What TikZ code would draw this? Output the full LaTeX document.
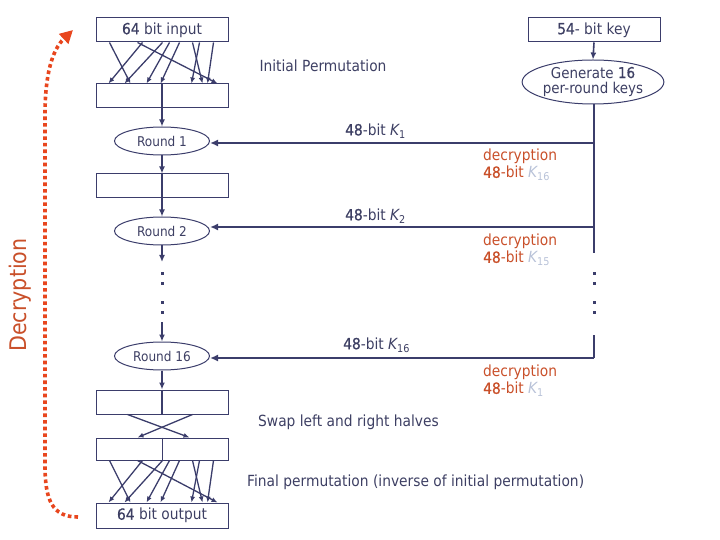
\documentclass[tikz,border=0pt]{standalone}
\usepackage{fontspec}
\setmainfont{DejaVu Sans}[FakeStretch=0.9]
\newfontfamily\semib{DejaVu Sans}[FakeStretch=0.9, FakeBold=0.8]
\usetikzlibrary{shapes.geometric,arrows.meta}
\definecolor{ln}{HTML}{3B3D6B}
\definecolor{tx}{HTML}{3D3F63}
\definecolor{dec}{HTML}{C9502A}
\definecolor{arr}{HTML}{E8461E}
\definecolor{kk}{HTML}{B8C2D8}
\newcommand{\Kk}[1]{{\itshape K}\textsubscript{#1}}
\newcommand{\dg}[1]{{\semib #1}}
\begin{document}
\begin{tikzpicture}[x=1bp,y=-1bp,
  every node/.style={text=tx, font=\fontsize{15.4}{17}\selectfont},
  box/.style={draw=ln, line width=1bp, minimum width=132bp, minimum height=24bp, inner sep=0pt},
  rnd/.style={ellipse, draw=ln, line width=1bp, minimum width=95bp, minimum height=28bp, inner sep=0pt, font=\fontsize{13.5}{15}\selectfont},
  conn/.style={draw=ln, line width=1.6bp, -{Latex[length=7bp,width=6bp]}},
  perm/.style={draw=ln, line width=1.3bp, -{Latex[length=6bp,width=5bp]}},
  pl/.style={draw=ln, line width=1.6bp},
  kline/.style={draw=ln, line width=2.2bp, -{Latex[length=8bp,width=7bp]}},
  dot/.style={fill=ln},
  lbl/.style={anchor=west, inner sep=0pt},
  declbl/.style={anchor=north west, inner sep=0pt, align=left, text=dec}
]
\useasboundingbox (0,0) rectangle (720,540);

% left column
\node[box] (in) at (162,30) {\dg{64} bit input};
\node[box] (ip) at (162,96) {};
\node[rnd] (r1) at (162,141) {Round 1};
\node[box] (b2) at (162,186) {};
\node[rnd] (r2) at (162,231) {Round 2};
\node[rnd] (r16) at (162,356) {Round 16};
\node[box] (b3) at (162,402) {};
\node[box, minimum height=22bp] (b4) at (162,449) {};
\node[box, minimum height=25bp] (out) at (162,515.5) {\dg{64} bit output};

% key column
\node[box, minimum width=132bp] (key) at (594,30) {\dg{54}- bit key};
\node[ellipse, draw=ln, line width=1bp, minimum width=138bp, minimum height=44bp, inner sep=0pt, align=center,
      font=\fontsize{15}{16}\selectfont] (gen) at (593,82) {Generate \dg{16}\\per-round keys};

% permutations
\foreach \s/\e in {14/35, 42/122, 47/13, 67/29, 74/51, 84/65, 97/107, 104/96, 118/112} {
  \draw[perm] ([xshift=\s bp]in.south west) -- ([xshift=\e bp]ip.north west);
  \draw[perm] ([xshift=\s bp]b4.south west) -- ([xshift=\e bp]out.north west);
}

% main data path
\draw[conn] (ip.north) -- (r1.north);
\draw[conn] (r1.south) -- (b2.north);
\draw[pl] (b2.north) -- (b2.south);
\draw[conn] (b2.south) -- (r2.north);
\coordinate (d1) at (162,262);
\coordinate (d2) at (162,322);
\draw[conn] (r2.south) -- (d1);
\draw[conn] (d2) -- (r16.north);
\foreach \y in {273,283,302,312} \fill[dot] (160.5,\y-1.5) rectangle +(3,3);
\draw[conn] (r16.south) -- (b3.north);
\draw[pl] (b3.north) -- (b3.south);
\draw[line width=1bp, draw=ln] (b4.north) -- (b4.south);

% swap
\draw[perm] ([xshift=32bp]b3.south west) -- ([xshift=94bp]b4.north west);
\draw[perm] ([xshift=97bp]b3.south west) -- ([xshift=42bp]b4.north west);

% key path
\draw[conn] (key.south) -- (gen.north);
\coordinate (k1) at (594,143);
\coordinate (k2) at (594,227);
\coordinate (kend) at (594,253);
\coordinate (kst) at (594,335);
\coordinate (k16) at (594,358);
\draw[pl, line width=1.3bp] (594,104) -- (kend);
\draw[kline] (k1) -- (r1.east |- k1);
\draw[kline] (k2) -- (r2.east |- k2);
\draw[pl, line width=1.3bp] (kst) -- (k16);
\draw[kline] (k16) -- (r16.east |- k16);
\foreach \y in {273,283,302,312} \fill[dot] (592.5,\y-1.5) rectangle +(3,3);

% labels
\node[anchor=center] (lip) at (323,66) {Initial Permutation};
\node[lbl] (l1) at (345,131) {\dg{48}-bit \Kk{1}};
\node[lbl] (l2) at (345,216) {\dg{48}-bit \Kk{2}};
\node[lbl] (l16) at (343,345) {\dg{48}-bit \Kk{16}};
\node[declbl] (dl1) at (483,149) {decryption\\\dg{48}-bit \textcolor{kk}{\Kk{16}}};
\node[declbl] (dl2) at (483,234) {decryption\\\dg{48}-bit \textcolor{kk}{\Kk{15}}};
\node[declbl] (dl3) at (483,365) {decryption\\\dg{48}-bit \textcolor{kk}{\Kk{1}}};
\node[lbl] (lsw) at (258,422) {Swap left and right halves};
\node[lbl] (lfp) at (247,482) {Final permutation (inverse of initial permutation)};

% decryption arrow
\node[rotate=90, text=dec, font=\fontsize{23}{25}\selectfont] (dec) at (20,295) {Decryption};
\coordinate (as) at (78,517);
\coordinate (ae) at (73,30);
\draw[draw=arr, line width=3.6bp, dash pattern=on 3.6bp off 3bp, -{Triangle[length=13bp,width=13bp]}]
  (as) .. controls (52,517) and (45,500) .. (45,465) -- (45,115) .. controls (45,75) and (52,50) .. (ae);
\end{tikzpicture}
\end{document}
